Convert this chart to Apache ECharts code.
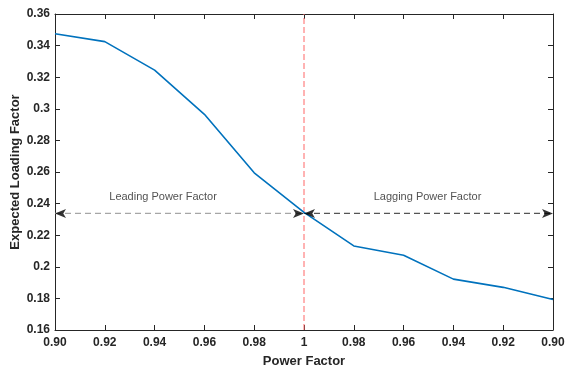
<!DOCTYPE html>
<html>
<head>
<meta charset="utf-8">
<script src="https://cdn.jsdelivr.net/npm/echarts@6/dist/echarts.min.js"></script>
<style>html,body{margin:0;padding:0;background:#fff}#c{width:565px;height:369px}</style>
</head>
<body>
<div id="c"></div>
<script>
const xLabels = ['0.90','0.92','0.94','0.96','0.98','1','0.98','0.96','0.94','0.92','0.90'];
const loading = [0.3475, 0.3425, 0.3245, 0.2965, 0.2595, 0.2345, 0.2132, 0.2073, 0.1922, 0.1870, 0.1793];
const yTicks = [0.16,0.18,0.2,0.22,0.24,0.26,0.28,0.3,0.32,0.34,0.36];
const unityIndex = 5;
const arrowY = 0.2338;
const annotations = [
  {x: 2.17, y: 0.2445, text: 'Leading Power Factor'},
  {x: 7.48, y: 0.2445, text: 'Lagging Power Factor'}
];

const FONT = 'Liberation Sans, Arial, Helvetica, sans-serif';
const AX = '#262626';
const rightArrow = 'path://M0,0 L10,4 L0,8 L2.5,4 Z';
const leftArrow = 'path://M10,0 L0,4 L10,8 L7.5,4 Z';
const leadStyle = {color: '#a6a6a6', type: [6,4], width: 1.2};
const lagStyle = {color: '#555555', type: [6,4], width: 1.2};
const unityStyle = {color: '#ff6666', type: [6,3], width: 1};

const chart = echarts.init(document.getElementById('c'), null, {renderer: 'canvas'});
const xCommon = {
  type: 'value', min: 0, max: xLabels.length - 1, interval: 1,
  axisLine: {show: true, onZero: false, lineStyle: {color: AX, width: 1}},
  axisTick: {show: true, inside: true, length: 5, lineStyle: {color: AX}},
  splitLine: {show: false}
};
const yCommon = {
  type: 'value', min: yTicks[0], max: yTicks[yTicks.length-1], interval: 0.02,
  axisLine: {show: true, onZero: false, lineStyle: {color: AX, width: 1}},
  axisTick: {show: true, inside: true, length: 5, lineStyle: {color: AX}},
  splitLine: {show: false}
};
function hLine(x0, x1, y, style) {
  return {
    type: 'line', data: [[x0, y], [x1, y]], symbol: 'none', silent: true,
    lineStyle: style, z: 3
  };
}
chart.setOption({
  animation: false,
  backgroundColor: '#fff',
  grid: {left: 55, right: 12, top: 14, bottom: 39, containLabel: false, outerBoundsMode: 'none'},
  xAxis: [
    Object.assign({}, xCommon, {
      position: 'bottom',
      name: 'Power Factor', nameLocation: 'middle', nameGap: 25, nameMoveOverlap: false,
      nameTextStyle: {fontFamily: FONT, fontWeight: 'bold', fontSize: 13, color: AX},
      axisLabel: {fontFamily: FONT, fontWeight: 'bold', fontSize: 12, color: AX, margin: 7,
        formatter: v => xLabels[Math.round(v)] ?? ''}
    }),
    Object.assign({}, xCommon, {position: 'top', axisLabel: {show: false}})
  ],
  yAxis: [
    Object.assign({}, yCommon, {
      position: 'left',
      name: 'Expected Loading Factor', nameLocation: 'middle', nameGap: 33, nameMoveOverlap: false,
      nameTextStyle: {fontFamily: FONT, fontWeight: 'bold', fontSize: 13, color: AX},
      axisLabel: {fontFamily: FONT, fontWeight: 'bold', fontSize: 12, color: AX, margin: 5,
        formatter: v => String(+v.toFixed(2))}
    }),
    Object.assign({}, yCommon, {position: 'right', axisLabel: {show: false}})
  ],
  series: [
    hLine(0, unityIndex, arrowY, leadStyle),
    hLine(unityIndex, xLabels.length - 1, arrowY, lagStyle),
    {
      type: 'line', data: [[unityIndex, yTicks[0]], [unityIndex, yTicks[yTicks.length-1]]],
      symbol: 'none', silent: true, lineStyle: unityStyle, z: 3
    },
    {
      type: 'line', data: loading.map((v,i)=>[i,v]), showSymbol: false, symbol: 'none',
      lineStyle: {color: '#0072BD', width: 1.6}, z: 5
    },
    {
      type: 'scatter', symbol: rightArrow, symbolSize: [11, 9], symbolOffset: [-5.5, 0],
      itemStyle: {color: '#000'}, z: 6, silent: true,
      data: [[unityIndex, arrowY], [xLabels.length-1, arrowY]]
    },
    {
      type: 'scatter', symbol: leftArrow, symbolSize: [11, 9], symbolOffset: [5.5, 0],
      itemStyle: {color: '#000'}, z: 6, silent: true,
      data: [[0, arrowY], [unityIndex, arrowY]]
    },
    {
      type: 'scatter', symbolSize: 0, silent: true,
      data: annotations.map(a => [a.x, a.y, a.text]),
      label: {show: true, position: 'inside', formatter: p => p.data[2],
        fontFamily: FONT, fontSize: 11, color: '#262626'}
    }
  ]
});
</script>
</body>
</html>
